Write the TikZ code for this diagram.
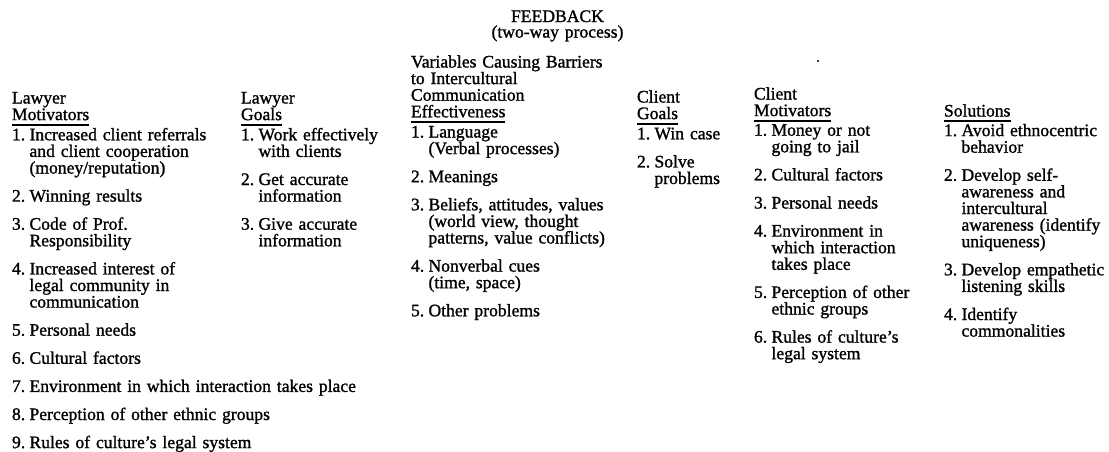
\documentclass[tikz,border=0pt]{standalone}
\usepackage{fontspec}
\setmainfont{Liberation Serif}[FakeBold=1.2]
\newlength\numw \setlength\numw{17.5pt}
\newlength\itemgap \setlength\itemgap{11.5pt}
\newcommand\colfont{\fontsize{17.6}{16.6}\selectfont\lineskiplimit=-30pt\lineskip=0pt\parskip=0pt}
\newcommand\ulw[1]{\vtop{\hbox{#1}\kern3.8pt\hrule height 1.5pt}}
\newcommand\entry[3][\itemgap]{\par\vspace{#1}\hangindent=\numw\hangafter=1\noindent\makebox[\numw][l]{#2}#3\par}
\tikzset{
  col/.style={anchor=base west, inner sep=0pt, outer sep=0pt, align=left, text width=#1, font=\colfont},
  ttl/.style={anchor=base, inner sep=0pt, align=center, text width=300pt, font=\colfont}
}
\begin{document}
\begin{tikzpicture}[x=1pt,y=-1pt]
\useasboundingbox[fill=white] (0,0) rectangle (1109,451);
\node[ttl] (title) at (557.5,22) {FEEDBACK\\[-1pt](two-way process)};
\fill (818,61) circle (1.1pt);
\node[col=400pt] (lawmot) at (12,103.5) {Lawyer\newline\ulw{Motivators}\par
  \entry[3.6pt]{1.}{Increased client referrals\newline and client cooperation\newline (money/reputation)}
  \entry{2.}{Winning results}
  \entry{3.}{Code of Prof.\newline Responsibility}
  \entry{4.}{Increased interest of\newline legal community in\newline communication}
  \entry{5.}{Personal needs}
  \entry{6.}{Cultural factors}
  \entry{7.}{Environment in which interaction takes place}
  \entry{8.}{Perception of other ethnic groups}
  \entry{9.}{Rules of culture's legal system}};
\node[col=200pt] (lawgoal) at (241,103.5) {Lawyer\newline\ulw{Goals}\par
  \entry[3.6pt]{1.}{Work effectively\newline with clients}
  \entry{2.}{Get accurate\newline information}
  \entry{3.}{Give accurate\newline information}};
\node[col=250pt] (vars) at (411,67.5) {Variables Causing Barriers\newline to Intercultural\newline Communication\newline \ulw{Effectiveness}\par
  \entry[3.6pt]{1.}{Language\newline (Verbal processes)}
  \entry{2.}{Meanings}
  \entry{3.}{Beliefs, attitudes, values\newline (world view, thought\newline patterns, value conflicts)}
  \entry{4.}{Nonverbal cues\newline (time, space)}
  \entry{5.}{Other problems}};
\node[col=120pt] (cligoal) at (637,102.5) {Client\newline\ulw{Goals}\par
  \entry[3.6pt]{1.}{Win case}
  \entry{2.}{Solve\newline problems}};
\node[col=200pt] (climot) at (754,99.5) {Client\newline\ulw{Motivators}\par
  \entry[3pt]{1.}{Money or not\newline going to jail}
  \entry{2.}{Cultural factors}
  \entry{3.}{Personal needs}
  \entry{4.}{Environment in\newline which interaction\newline takes place}
  \entry{5.}{Perception of other\newline ethnic groups}
  \entry{6.}{Rules of culture's\newline legal system}};
\node[col=200pt] (sol) at (944,116.5) {\ulw{Solutions}\par
  \entry[3pt]{1.}{Avoid ethnocentric\newline behavior}
  \entry{2.}{Develop self-\newline awareness and\newline intercultural\newline awareness (identify\newline uniqueness)}
  \entry{3.}{Develop empathetic\newline listening skills}
  \entry{4.}{Identify\newline commonalities}};
\end{tikzpicture}
\end{document}
